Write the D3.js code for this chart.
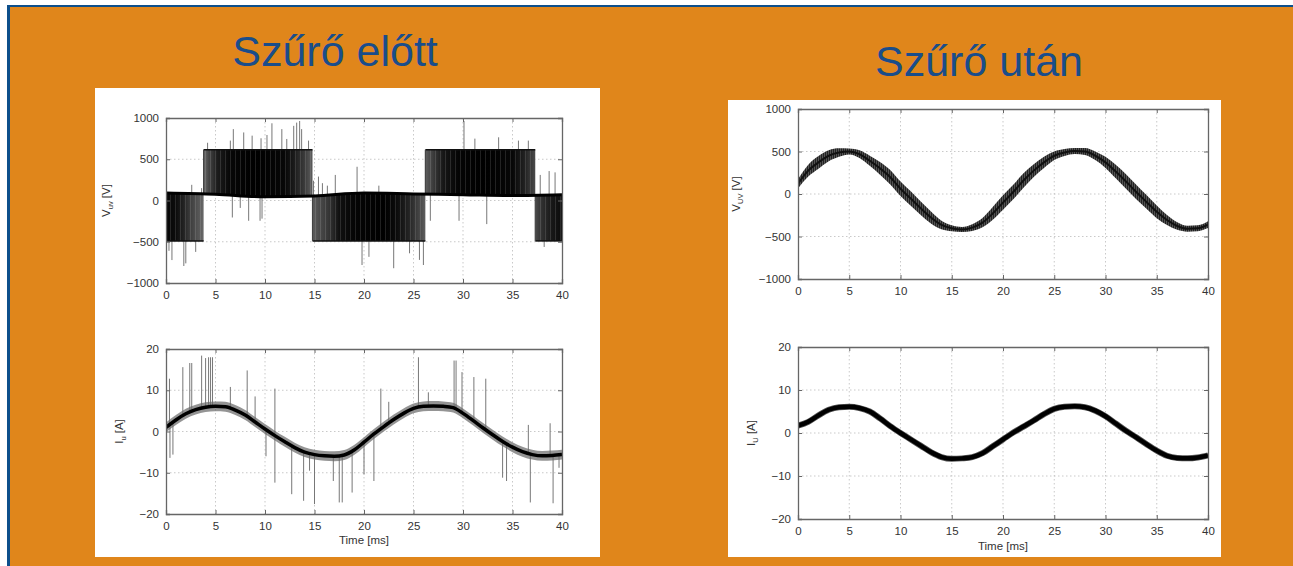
<!DOCTYPE html>
<html><head><meta charset="utf-8">
<script src="https://cdn.jsdelivr.net/npm/d3@7"></script>
<style>
html,body{margin:0;padding:0;background:#fff;}
svg{display:block;}
text{font-family:"Liberation Sans",Arial,Helvetica,sans-serif;}
</style></head>
<body>
<svg id="c" width="1293" height="566"></svg>
<script>
// ---------------- DATA ----------------
const titles = ["Szűrő előtt", "Szűrő után"];
const xTicks = [0, 5, 10, 15, 20, 25, 30, 35, 40];
const vTicks = [-1000, -500, 0, 500, 1000];
const iTicks = [-20, -10, 0, 10, 20];
const xLabel = "Time [ms]";

// Left top: PWM line voltage before filter
const pwmStart = [0, 3.8, 14.8, 26.2, 37.3];
const pwmEnd   = [3.8, 14.8, 26.2, 37.3, 40];
const pwmLevel = [-490, 615, -490, 615, -490];
// darkness of the switching band along time (0..1)
const pwmDensT = [0, 1, 1.8, 2.6, 3.4, 3.8, 3.8, 4.3, 5.2, 6.5, 9, 12, 13, 14, 14.8, 14.8, 15.5, 16.5, 17.5, 19, 22, 23.3, 24.5, 25.5, 26.2, 26.2, 27, 28, 29.5, 32, 35, 36.3, 37.3, 37.3, 38, 39, 40];
const pwmDens  = [0.97, 0.95, 0.85, 0.72, 0.62, 0.55, 0.55, 0.7, 0.88, 0.97, 1.0, 0.97, 0.88, 0.75, 0.6, 0.6, 0.68, 0.78, 0.93, 0.98, 1.0, 0.95, 0.85, 0.72, 0.6, 0.6, 0.75, 0.9, 0.98, 1.0, 0.97, 0.85, 0.68, 0.68, 0.8, 0.9, 0.95];
const baseT = [0, 5, 10, 15, 20, 25, 30, 35, 40];
const baseV = [90, 75, 45, 55, 90, 80, 70, 60, 70];
const vSpikeT = [0.3, 0.6, 1.8, 2.0, 3.0, 2.6, 3.6, 4.2, 6.5, 6.8, 7.85, 8.7, 9.6, 10.2, 10.7, 11.7, 12.2, 12.9, 13.2, 13.5, 13.7, 14.4, 6.7, 8.35, 9.5, 9.7, 7.5, 15.4, 17.1, 19.3, 19.8, 21.5, 23.0, 24.6, 26.0, 20.5, 26.7, 29.6, 30.1, 32.4, 33.6, 35.6, 36.6, 31.2, 37.8, 38.7, 39.3, 38.2, 14.9, 15.8, 16.3, 25.6];
const vSpikeV = [-610, -722, -794, -762, -623, 190, 150, 700, 726, 865, 825, 786, 754, 794, 936, 865, 746, 905, 944, 964, 865, 726, -206, -246, -246, -220, -90, 290, 310, 409, -782, 180, -821, -640, -782, -683, -246, -246, 964, -286, 766, 726, 726, 750, 310, 357, 341, -563, 240, 210, 180, -720];

// Left bottom: phase current before filter
const curT = [0,1,2,3,4,5,6,7,8,9,10,11,12,13,14,15,16,17,18,19,20,21,22,23,24,25,26,27,28,29,30,31,32,33,34,35,36,37,38,39,40];
const iBefore = [1.0, 2.8, 4.3, 5.3, 5.9, 6.1, 6.0, 5.2, 4.0, 2.3, 0.6, -1.0, -2.5, -3.9, -5.0, -5.6, -5.9, -6.0, -5.7, -4.5, -2.6, -0.6, 1.2, 2.9, 4.4, 5.6, 6.1, 6.2, 6.1, 5.8, 4.4, 2.7, 0.9, -0.8, -2.4, -3.8, -4.9, -5.6, -5.9, -5.8, -5.6];
const iSpikeT = [0.35, 1.7, 2.4, 2.6, 3.6, 4.0, 4.3, 4.5, 4.7, 6.5, 8.2, 11.0, 21.7, 22.5, 25.5, 29.1, 29.3, 29.9, 31.1, 32.3, 0.4, 0.7, 10.1, 11.0, 12.7, 13.9, 15.0, 16.9, 17.5, 17.8, 18.8, 20.0, 21.0, 34.0, 34.4, 36.8, 39.1, 39.7, 36.6, 38.8, 26.5, 9.0, 14.5];
const iSpikeV = [12.8, 15.6, 16.6, 16.6, 18.4, 17.8, 18.0, 18.0, 18.0, 10.8, 14.8, 10.4, 10.4, 7.2, 18.0, 17.2, 17.2, 14.4, 13.2, 12.8, -6.4, -5.6, -6.0, -12.4, -15.2, -16.8, -17.6, -12.0, -17.2, -17.2, -14.8, -10.4, -12.0, -11.2, -12.0, -17.2, -17.4, -8.8, 1.6, 2.0, 9.5, 8.5, -9.5];

// Right top: line voltage after filter
const vAfter = [120, 275, 372, 450, 488, 500, 469, 391, 302, 198, 62, -54, -171, -279, -364, -403, -418, -395, -337, -229, -101, 23, 159, 275, 372, 450, 488, 505, 500, 450, 372, 264, 147, 23, -93, -209, -306, -376, -408, -403, -360];
const vRipple = [55, 70, 75, 65, 50, 35, 45, 60, 75, 85, 85, 85, 80, 70, 50, 35, 30, 40, 55, 75, 85, 85, 85, 75, 65, 50, 40, 35, 40, 50, 65, 80, 85, 85, 80, 75, 60, 45, 35, 35, 40];

// Right bottom: phase current after filter
const iAfter = [1.7, 2.6, 4.1, 5.4, 6.0, 6.1, 5.8, 5.0, 3.4, 1.6, 0.0, -1.5, -3.0, -4.5, -5.6, -6.0, -5.9, -5.6, -4.7, -3.1, -1.5, 0.1, 1.5, 2.9, 4.4, 5.6, 6.1, 6.2, 6.0, 5.2, 3.9, 2.2, 0.5, -1.0, -2.6, -4.1, -5.3, -5.8, -5.9, -5.7, -5.2];

// ---------------- DRAW ----------------
const svg = d3.select("#c");
const defs = svg.append("defs");

svg.append("rect").attr("x", 7).attr("y", 5).attr("width", 1286).attr("height", 561).attr("fill", "#0d4f8b");
svg.append("rect").attr("x", 10).attr("y", 7).attr("width", 1283).attr("height", 559).attr("fill", "#e0861b");
svg.append("rect").attr("x", 95).attr("y", 88).attr("width", 505).attr("height", 469).attr("fill", "#fff");
svg.append("rect").attr("x", 728).attr("y", 100).attr("width", 493).attr("height", 457).attr("fill", "#fff");

svg.append("text").attr("x", 335).attr("y", 66).attr("text-anchor", "middle")
  .attr("font-size", 43).attr("fill", "#1a4d8a").text(titles[0]);
svg.append("text").attr("x", 979).attr("y", 76).attr("text-anchor", "middle")
  .attr("font-size", 43).attr("fill", "#1a4d8a").text(titles[1]);

const p1 = defs.append("pattern").attr("id", "hatch").attr("patternUnits", "userSpaceOnUse")
  .attr("width", 2).attr("height", 4);
p1.append("rect").attr("width", 2).attr("height", 4).attr("fill", "#222");
p1.append("rect").attr("width", 1).attr("height", 4).attr("fill", "#555");

const p2 = defs.append("pattern").attr("id", "stripes").attr("patternUnits", "userSpaceOnUse")
  .attr("width", 5).attr("height", 4);
p2.append("rect").attr("width", 1).attr("height", 4).attr("fill", "#fff").attr("opacity", 0.12);

let clipId = 0;
function makeAxes(box, yDomain, yTicks, yLab, yLabX, ySub) {
  const x = d3.scaleLinear().domain([0, 40]).range([box.x0, box.x1]);
  const y = d3.scaleLinear().domain(yDomain).range([box.y1, box.y0]);
  const g = svg.append("g");
  g.selectAll(".gx").data(xTicks.slice(1, -1)).join("line")
    .attr("x1", d => x(d)).attr("x2", d => x(d)).attr("y1", box.y0).attr("y2", box.y1)
    .attr("stroke", "#bbb").attr("stroke-width", 0.8).attr("stroke-dasharray", "1.5,2.5");
  g.selectAll(".gy").data(yTicks.slice(1, -1)).join("line")
    .attr("y1", d => y(d)).attr("y2", d => y(d)).attr("x1", box.x0).attr("x2", box.x1)
    .attr("stroke", "#bbb").attr("stroke-width", 0.8).attr("stroke-dasharray", "1.5,2.5");
  const id = "clip" + (clipId++);
  defs.append("clipPath").attr("id", id).append("rect")
    .attr("x", box.x0).attr("y", box.y0).attr("width", box.x1 - box.x0).attr("height", box.y1 - box.y0);
  const plot = svg.append("g").attr("clip-path", `url(#${id})`);
  const frame = svg.append("g");
  const ax = d3.axisBottom(x).tickValues(xTicks).tickSize(-4).tickPadding(8).tickFormat(d3.format("d"));
  const axT = d3.axisTop(x).tickValues(xTicks).tickSize(-4).tickFormat("");
  const ay = d3.axisLeft(y).tickValues(yTicks).tickSize(-4).tickPadding(7).tickFormat(d => d < 0 ? "\u2212" + Math.abs(d) : d);
  const ayR = d3.axisRight(y).tickValues(yTicks).tickSize(-4).tickFormat("");
  [ [ax, `translate(0,${box.y1})`], [axT, `translate(0,${box.y0})`], [ay, `translate(${box.x0},0)`], [ayR, `translate(${box.x1},0)`] ]
    .forEach(([a, t]) => {
      const ga = frame.append("g").attr("transform", t).call(a);
      ga.select(".domain").attr("stroke", "#666").attr("stroke-width", 1.3);
      ga.selectAll(".tick line").attr("stroke", "#666");
      ga.selectAll("text").attr("font-size", 11.5).attr("fill", "#333")
        .attr("font-family", "Liberation Sans, Arial, sans-serif");
    });
  const cy = (box.y0 + box.y1) / 2;
  const t = frame.append("text").attr("transform", `translate(${yLabX},${cy}) rotate(-90)`)
    .attr("text-anchor", "middle").attr("font-size", 11.5).attr("fill", "#333");
  t.append("tspan").text(yLab[0]);
  t.append("tspan").attr("font-size", 7.5).attr("dy", 3).text(ySub);
  t.append("tspan").attr("dy", -3).text(" " + yLab[1]);
  return { x, y, plot, frame };
}

// ---------- Left top ----------
{
  const A = makeAxes({ x0: 166, x1: 562, y0: 118, y1: 283 }, [-1000, 1000], vTicks, ["V", "[V]"], 110, "uv");
  const baseAt = t => {
    let i = d3.bisectRight(baseT, t) - 1; i = Math.max(0, Math.min(baseT.length - 2, i));
    const f = (t - baseT[i]) / (baseT[i + 1] - baseT[i]);
    return baseV[i] + f * (baseV[i + 1] - baseV[i]);
  };
  const grad = defs.append("linearGradient").attr("id", "pwmGrad").attr("gradientUnits", "userSpaceOnUse")
    .attr("x1", A.x(0)).attr("x2", A.x(40)).attr("y1", 0).attr("y2", 0);
  pwmDensT.forEach((t, i) => {
    const g = Math.round(235 * (1 - pwmDens[i]));
    grad.append("stop").attr("offset", t / 40).attr("stop-color", `rgb(${g},${g},${g})`);
  });
  // spikes (behind band)
  A.plot.selectAll(".vs").data(vSpikeT).join("line")
    .attr("x1", d => A.x(d)).attr("x2", d => A.x(d))
    .attr("y1", d => A.y(baseAt(d)))
    .attr("y2", (d, i) => A.y(vSpikeV[i]))
    .attr("stroke", "#777").attr("stroke-width", 1);
  pwmStart.forEach((s, k) => {
    const pts = [s, ...baseT.filter(t => t > s && t < pwmEnd[k]), pwmEnd[k]];
    const area = d3.area().x(d => A.x(d)).y0(d => A.y(baseAt(d))).y1(() => A.y(pwmLevel[k]));
    A.plot.append("path").datum(pts).attr("d", area).attr("fill", "url(#pwmGrad)");
    A.plot.append("path").datum(pts).attr("d", area).attr("fill", "url(#stripes)");
    A.plot.append("line").attr("x1", A.x(s)).attr("x2", A.x(pwmEnd[k]))
      .attr("y1", A.y(pwmLevel[k])).attr("y2", A.y(pwmLevel[k])).attr("stroke", "#111").attr("stroke-width", 1.5);
    A.plot.append("line").attr("x1", A.x(s)).attr("x2", A.x(s))
      .attr("y1", A.y(baseAt(s))).attr("y2", A.y(pwmLevel[k])).attr("stroke", "#444").attr("stroke-width", 1.2);
  });
  A.plot.append("path").datum(baseT).attr("d", d3.line().x(d => A.x(d)).y(d => A.y(baseAt(d))).curve(d3.curveMonotoneX))
    .attr("fill", "none").attr("stroke", "#000").attr("stroke-width", 3);
}

// ---------- Left bottom ----------
{
  const A = makeAxes({ x0: 166, x1: 562, y0: 349, y1: 514 }, [-20, 20], iTicks, ["I", "[A]"], 123, "u");
  const line = d3.line().x((d, i) => A.x(curT[i])).y(d => A.y(d)).curve(d3.curveMonotoneX);
  const band = d3.area().x((d, i) => A.x(curT[i])).y0(d => A.y(d - 1.2)).y1(d => A.y(d + 1.2)).curve(d3.curveMonotoneX);
  const base = t => {
    const i = Math.min(39, Math.floor(t));
    return iBefore[i] + (t - i) * (iBefore[i + 1] - iBefore[i]);
  };
  A.plot.selectAll(".is").data(iSpikeT).join("line")
    .attr("x1", d => A.x(d)).attr("x2", d => A.x(d))
    .attr("y1", d => A.y(base(d))).attr("y2", (d, i) => A.y(iSpikeV[i]))
    .attr("stroke", "#777").attr("stroke-width", 1);
  A.plot.append("path").datum(iBefore).attr("d", band).attr("fill", "#666").attr("opacity", 0.7);
  A.plot.append("path").datum(iBefore).attr("d", line).attr("fill", "none").attr("stroke", "#000").attr("stroke-width", 3.5);
  A.frame.append("text").attr("x", 364).attr("y", 544).attr("text-anchor", "middle")
    .attr("font-size", 11.5).attr("fill", "#333").text(xLabel);
}

// ---------- Right top ----------
{
  const A = makeAxes({ x0: 798, x1: 1208, y0: 109, y1: 279 }, [-1000, 1000], vTicks, ["V", "[V]"], 740, "UV");
  const band = d3.area().x((d, i) => A.x(curT[i])).y0((d, i) => A.y(d - vRipple[i])).y1((d, i) => A.y(d + vRipple[i])).curve(d3.curveMonotoneX);
  A.plot.append("path").datum(vAfter).attr("d", band).attr("fill", "url(#hatch)");
  const line = d3.line().x((d, i) => A.x(curT[i])).y(d => A.y(d)).curve(d3.curveMonotoneX);
  A.plot.append("path").datum(vAfter).attr("d", line).attr("fill", "none").attr("stroke", "#111").attr("stroke-width", 2);
}

// ---------- Right bottom ----------
{
  const A = makeAxes({ x0: 798, x1: 1208, y0: 347, y1: 519 }, [-20, 20], iTicks, ["I", "[A]"], 755, "U");
  const line = d3.line().x((d, i) => A.x(curT[i])).y(d => A.y(d)).curve(d3.curveMonotoneX);
  A.plot.append("path").datum(iAfter).attr("d", line).attr("fill", "none").attr("stroke", "#555").attr("stroke-width", 6);
  A.plot.append("path").datum(iAfter).attr("d", line).attr("fill", "none").attr("stroke", "#000").attr("stroke-width", 4.5);
  A.frame.append("text").attr("x", 1003).attr("y", 550).attr("text-anchor", "middle")
    .attr("font-size", 11.5).attr("fill", "#333").text(xLabel);
}
</script>
</body></html>
